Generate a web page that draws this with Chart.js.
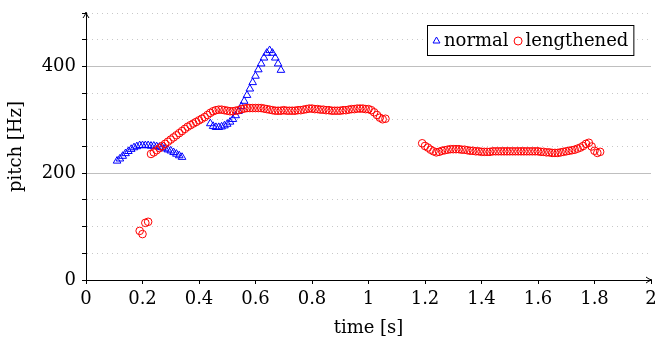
<!DOCTYPE html>
<html>

<head>
    <meta charset="utf-8">
    <script src="https://cdn.jsdelivr.net/npm/chart.js@4.4.1/dist/chart.umd.min.js"></script>
    <title>Pitch Chart</title>
    <style>
        body { margin: 0; background: #fff; }
    </style>
</head>

<body>

    <canvas id="pitch-chart" width="657" height="343"></canvas>
    <script>
        // normal utterance (triangles)
        const normalTime = [
            0.11, 0.12, 0.13, 0.14, 0.15, 0.16, 0.17, 0.18, 0.19, 0.20, 0.21, 0.22,
            0.23, 0.24, 0.25, 0.26, 0.27, 0.28, 0.29, 0.30, 0.31, 0.32, 0.33, 0.34,
            0.44, 0.45, 0.46, 0.47, 0.48, 0.49, 0.50, 0.51, 0.52, 0.53, 0.54, 0.55, 0.56,
            0.57, 0.58, 0.59, 0.60, 0.61, 0.62, 0.63, 0.64, 0.65, 0.66, 0.67, 0.68, 0.69
        ];
        const normalPitch = [
            223, 227, 232, 237, 241, 245, 248, 250, 252, 252, 252, 252,
            251, 251, 250, 249, 248, 246, 244, 242, 239, 236, 233, 230,
            293, 288, 286, 286, 287, 289, 292, 296, 301, 308, 316, 325, 335,
            346, 358, 370, 382, 394, 405, 416, 425, 430, 425, 416, 405, 393
        ];

        // lengthened utterance (circles)
        const lengthenedTime = [
            0.19, 0.20, 0.21, 0.22,
            0.23, 0.24, 0.25, 0.26, 0.27, 0.28, 0.29, 0.30, 0.31, 0.32, 0.33, 0.34,
            0.35, 0.36, 0.37, 0.38, 0.39, 0.40, 0.41, 0.42, 0.43, 0.44, 0.45, 0.46,
            0.47, 0.48, 0.49, 0.50, 0.51, 0.52, 0.53, 0.54, 0.55, 0.56, 0.57, 0.58,
            0.59, 0.60, 0.61, 0.62, 0.63, 0.64, 0.65, 0.66, 0.67, 0.68, 0.69, 0.70,
            0.71, 0.72, 0.73, 0.74, 0.75, 0.76, 0.77, 0.78, 0.79, 0.80, 0.81, 0.82,
            0.83, 0.84, 0.85, 0.86, 0.87, 0.88, 0.89, 0.90, 0.91, 0.92, 0.93, 0.94,
            0.95, 0.96, 0.97, 0.98, 0.99, 1.00, 1.01, 1.02, 1.03, 1.04, 1.05, 1.06,
            1.19, 1.20, 1.21, 1.22, 1.23, 1.24, 1.25, 1.26, 1.27, 1.28, 1.29, 1.30,
            1.31, 1.32, 1.33, 1.34, 1.35, 1.36, 1.37, 1.38, 1.39, 1.40, 1.41, 1.42,
            1.43, 1.44, 1.45, 1.46, 1.47, 1.48, 1.49, 1.50, 1.51, 1.52, 1.53, 1.54,
            1.55, 1.56, 1.57, 1.58, 1.59, 1.60, 1.61, 1.62, 1.63, 1.64, 1.65, 1.66,
            1.67, 1.68, 1.69, 1.70, 1.71, 1.72, 1.73, 1.74, 1.75, 1.76, 1.77, 1.78,
            1.79, 1.80, 1.81, 1.82
        ];
        const lengthenedPitch = [
            92, 86, 107, 109,
            236, 239, 243, 247, 251, 255, 259, 263, 267, 271, 275, 279,
            283, 287, 290, 293, 296, 299, 302, 305, 309, 313, 316, 318,
            319, 319, 318, 317, 316, 316, 317, 318, 320, 321, 322, 322,
            322, 322, 322, 322, 321, 320, 319, 318, 317, 317, 317, 318,
            317, 317, 317, 317, 318, 318, 319, 320, 321, 321, 320, 320,
            319, 319, 318, 318, 317, 317, 317, 317, 318, 318, 319, 320,
            320, 321, 321, 321, 320, 320, 318, 314, 309, 304, 301, 302,
            256, 251, 248, 244, 241, 239, 240, 242, 243, 244, 245, 245,
            245, 245, 244, 244, 243, 242, 242, 241, 241, 240, 240, 240,
            240, 241, 241, 241, 241, 241, 241, 241, 241, 241, 241, 241,
            241, 241, 241, 241, 241, 241, 240, 240, 239, 239, 238, 238,
            238, 239, 240, 241, 242, 243, 244, 246, 248, 251, 255, 257,
            250, 242, 238, 240
        ];

        const xTicks = [0, 0.2, 0.4, 0.6, 0.8, 1, 1.2, 1.4, 1.6, 1.8, 2];
        const yMajorTicks = [0, 200, 400];

        const FONT = '"DejaVu Serif", serif';
        Chart.defaults.font.family = FONT;
        Chart.defaults.font.size = 18;
        Chart.defaults.color = '#000';

        function toPoints(xs, ys) {
            return xs.map((x, i) => ({ x: x, y: ys[i] }));
        }

        // legend box drawn inside the plot, top right
        const legendBox = {
            id: 'legendBox',
            afterDraw(chart) {
                const ctx = chart.ctx;
                const area = chart.chartArea;
                ctx.save();
                ctx.font = '18px ' + FONT;
                const items = chart.data.datasets.map(ds => ({
                    label: ds.label,
                    style: ds.pointStyle,
                    color: ds.borderColor,
                    w: ctx.measureText(ds.label).width
                }));
                const pad = 5, mark = 9, gap = 3, sep = 5;
                let width = pad * 2;
                items.forEach((it, i) => { width += mark + gap + it.w + (i ? sep : 0); });
                const h = 30;
                const x0 = Math.round(area.right - 18 - width);
                const y0 = Math.round(area.top + 12);
                ctx.fillStyle = '#fff';
                ctx.fillRect(x0, y0, width, h);
                ctx.strokeStyle = '#000';
                ctx.lineWidth = 1;
                ctx.strokeRect(x0 + 0.5, y0 + 0.5, width, h);
                let x = x0 + pad;
                const cy = y0 + h / 2;
                items.forEach((it, i) => {
                    if (i) x += sep;
                    ctx.strokeStyle = it.color;
                    ctx.fillStyle = 'rgba(0,0,0,0)';
                    ctx.lineWidth = 1;
                    Chart.helpers.drawPoint(ctx, { pointStyle: it.style, radius: 4, rotation: 0, borderWidth: 1 }, x + mark / 2, cy + 1);
                    x += mark + gap;
                    ctx.fillStyle = '#000';
                    ctx.textBaseline = 'middle';
                    ctx.fillText(it.label, x, cy + 1);
                    x += it.w;
                });
                ctx.restore();
            }
        };

        // arrow heads at the ends of both axes
        const axisArrows = {
            id: 'axisArrows',
            afterDraw(chart) {
                const ctx = chart.ctx;
                const a = chart.chartArea;
                ctx.save();
                ctx.strokeStyle = '#000';
                ctx.lineWidth = 1;
                ctx.beginPath();
                ctx.moveTo(a.left - 3, a.top + 5);
                ctx.quadraticCurveTo(a.left - 0.5, a.top + 2, a.left, a.top - 1);
                ctx.quadraticCurveTo(a.left + 0.5, a.top + 2, a.left + 3, a.top + 5);
                ctx.moveTo(a.right - 5, a.bottom - 3);
                ctx.quadraticCurveTo(a.right - 2, a.bottom - 0.5, a.right + 1, a.bottom);
                ctx.quadraticCurveTo(a.right - 2, a.bottom + 0.5, a.right - 5, a.bottom + 3);
                ctx.stroke();
                ctx.restore();
            }
        };

        new Chart(document.getElementById('pitch-chart'), {
            type: 'scatter',
            data: {
                datasets: [{
                    label: 'normal',
                    data: toPoints(normalTime, normalPitch),
                    pointStyle: 'triangle',
                    pointRadius: 4.4,
                    borderColor: '#0000ff',
                    backgroundColor: 'rgba(0,0,0,0)',
                    borderWidth: 1,
                    order: 1
                }, {
                    label: 'lengthened',
                    data: toPoints(lengthenedTime, lengthenedPitch),
                    pointStyle: 'circle',
                    pointRadius: 3.8,
                    borderColor: '#ff0000',
                    backgroundColor: 'rgba(0,0,0,0)',
                    borderWidth: 1,
                    order: 0
                }]
            },
            options: {
                responsive: false,
                animation: false,
                layout: { padding: { left: 0, right: 6, top: 13, bottom: 0 } },
                plugins: {
                    legend: { display: false },
                    tooltip: { enabled: false }
                },
                scales: {
                    x: {
                        type: 'linear',
                        min: 0,
                        max: 2,
                        afterBuildTicks: scale => { scale.ticks = xTicks.map(v => ({ value: v })); },
                        afterFit: scale => {
                            scale.height = 63;
                            scale.paddingLeft = 0;
                            scale.paddingRight = 0;
                        },
                        ticks: {
                            padding: 5,
                            maxRotation: 0,
                            callback: v => String(Number(v.toFixed(1)))
                        },
                        grid: {
                            drawOnChartArea: false,
                            tickLength: 4,
                            tickColor: '#000'
                        },
                        border: { color: '#000', width: 1 },
                        title: {
                            display: true,
                            text: 'time [s]',
                            padding: { top: 0, bottom: 4 }
                        }
                    },
                    y: {
                        min: 0,
                        max: 500,
                        afterFit: scale => {
                            scale.width = 86;
                            scale.paddingTop = 0;
                            scale.paddingBottom = 0;
                        },
                        ticks: {
                            stepSize: 50,
                            padding: 6,
                            callback: v => yMajorTicks.includes(v) ? String(v) : ''
                        },
                        grid: {
                            tickLength: 4,
                            tickColor: '#000',
                            lineWidth: 1,
                            color: ctx => (ctx.tick && yMajorTicks.includes(ctx.tick.value)) ? '#bfbfbf' : '#c8c8c8'
                        },
                        border: {
                            color: '#000',
                            width: 1,
                            dash: ctx => (ctx.tick && !yMajorTicks.includes(ctx.tick.value)) ? [1, 4] : []
                        },
                        title: {
                            display: true,
                            text: 'pitch [Hz]',
                            padding: { top: 6, bottom: 0 }
                        }
                    }
                }
            },
            plugins: [legendBox, axisArrows]
        });
    </script>
</body>

</html>
